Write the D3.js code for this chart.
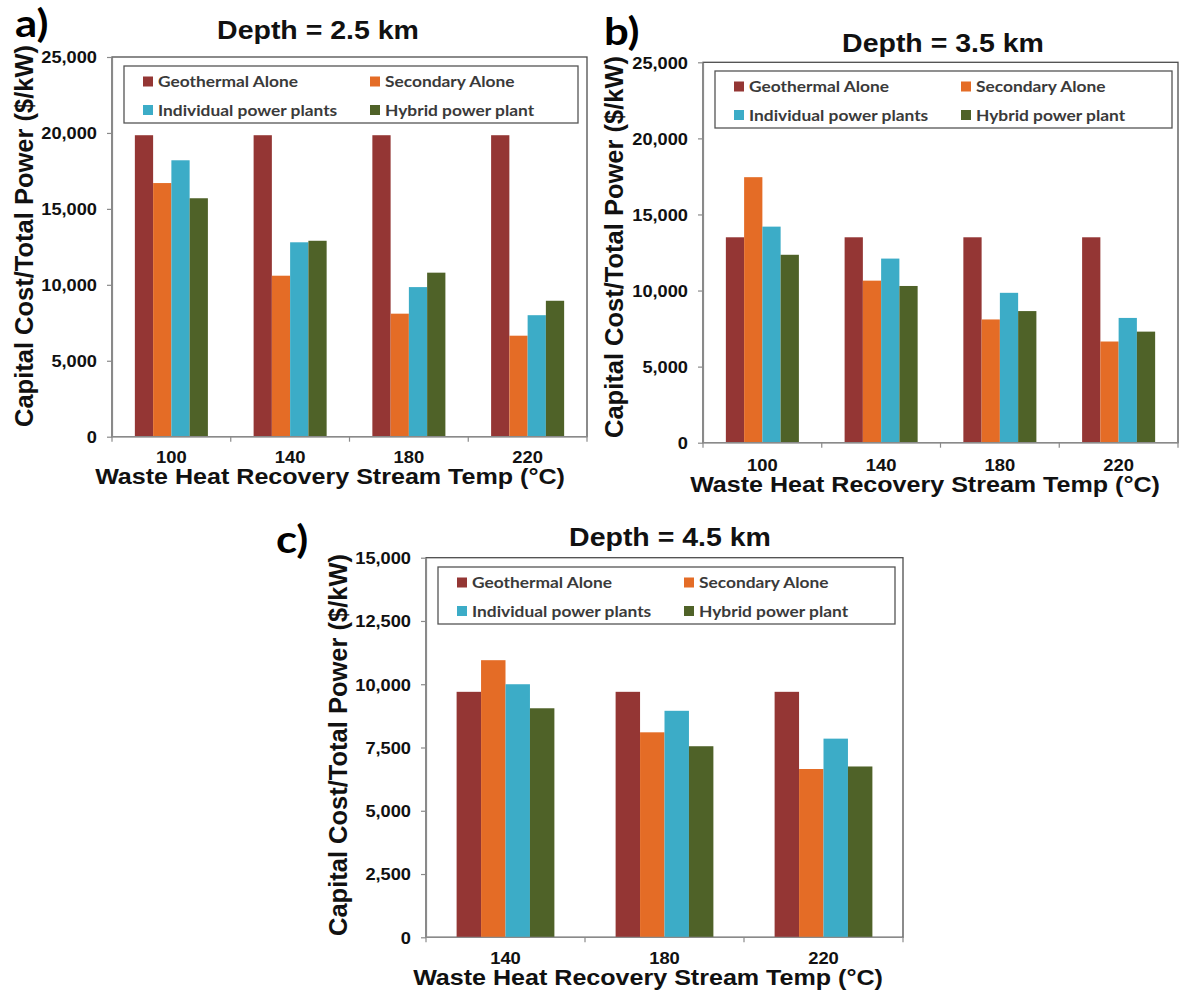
<!DOCTYPE html>
<meta charset="utf-8">
<head>
<style>
body { margin: 0; background: #fff; }
svg { display: block; }
.axis path, .axis line { stroke: #8a8a8a; stroke-width: 1.2; }
.lbl { font-family: "Liberation Sans", Arial, sans-serif; font-weight: bold; fill: #111; }
.leg { font-family: Lato, "Open Sans", sans-serif; font-weight: bold; fill: #3a3a3a; }
</style>
</head>
<body>
<svg width="1180" height="991"></svg>
<script src="https://cdn.jsdelivr.net/npm/d3@7"></script>
<script>

// ---- data ----
var seriesNames = ["Geothermal Alone", "Secondary Alone", "Individual power plants", "Hybrid power plant"];
var seriesColors = ["#943634", "#e46c26", "#3cacc7", "#4f6228"];

var tempsAB = ["100", "140", "180", "220"];
var tempsC = ["140", "180", "220"];

// depth 2.5 km
var geoA = [19850, 19850, 19850, 19850];
var secA = [16700, 10600, 8100, 6650];
var indA = [18200, 12800, 9850, 8000];
var hybA = [15700, 12900, 10800, 8950];

// depth 3.5 km
var geoB = [13500, 13500, 13500, 13500];
var secB = [17450, 10650, 8100, 6650];
var indB = [14200, 12100, 9850, 8200];
var hybB = [12350, 10300, 8650, 7300];

// depth 4.5 km
var geoC = [9700, 9700, 9700];
var secC = [10950, 8100, 6650];
var indC = [10000, 8950, 7850];
var hybC = [9050, 7550, 6750];

var ticksAB = [0, 5000, 10000, 15000, 20000, 25000];
var ticksC = [0, 2500, 5000, 7500, 10000, 12500, 15000];

var yTitle = "Capital Cost/Total Power ($/kW)";
var xTitle = "Waste Heat Recovery Stream Temp (°C)";

// ---- layout ----
var panels = [
  { tag: "a)", title: "Depth = 2.5 km", cats: tempsAB, vals: [geoA, secA, indA, hybA], ticks: ticksAB,
    left: 112, right: 587, top: 57, bottom: 436.7,
    tagX: 15, tagY: 37, titleX: 318, titleY: 39,
    legX: 124, legY: 66, legW: 454, legH: 57,
    yTitleX: 33, yTitleY: 236, xLabY: 463, xTitleX: 330, xTitleY: 484 },
  { tag: "b)", title: "Depth = 3.5 km", cats: tempsAB, vals: [geoB, secB, indB, hybB], ticks: ticksAB,
    left: 703, right: 1178, top: 62.3, bottom: 442.7,
    tagX: 604, tagY: 45, titleX: 943, titleY: 52,
    legX: 715, legY: 71, legW: 457, legH: 57,
    yTitleX: 623, yTitleY: 247, xLabY: 471, xTitleX: 925, xTitleY: 492 },
  { tag: "c)", title: "Depth = 4.5 km", cats: tempsC, vals: [geoC, secC, indC, hybC], ticks: ticksC,
    left: 426, right: 903, top: 557.7, bottom: 937.3,
    tagX: 276, tagY: 553, titleX: 670, titleY: 546,
    legX: 438, legY: 567, legW: 457, legH: 57,
    yTitleX: 347, yTitleY: 745, xLabY: 964, xTitleX: 648, xTitleY: 985 }
];

var svg = d3.select("svg");
var fmt = d3.format(",");
var sx = 1.14; // the source text is a bit wide

function stretchText(g, x, y, str, cls, size, anchor, k) {
  return g.append("text")
    .attr("class", cls)
    .attr("transform", "translate(" + x + "," + y + ") scale(" + (k || sx) + ",1)")
    .attr("text-anchor", anchor || "start")
    .style("font-size", size + "px")
    .text(str);
}

panels.forEach(function(p) {
  var g = svg.append("g");

  var x0 = d3.scaleBand().domain(p.cats).range([p.left, p.right]).paddingInner(0.385).paddingOuter(0.1925);
  var x1 = d3.scaleBand().domain(d3.range(4)).range([0, x0.bandwidth()]);
  var y = d3.scaleLinear().domain([0, d3.max(p.ticks)]).range([p.bottom, p.top]);
  var step = (p.right - p.left) / p.cats.length;

  // plot frame
  g.append("rect")
    .attr("x", p.left).attr("y", p.top)
    .attr("width", p.right - p.left).attr("height", p.bottom - p.top)
    .attr("fill", "none").attr("stroke", "#4d4d4d").attr("stroke-width", 1.3);

  // bars
  p.vals.forEach(function(arr, si) {
    g.selectAll(".bar" + si)
      .data(arr)
      .enter().append("rect")
        .attr("x", function(d, i) { return x0(p.cats[i]) + x1(si); })
        .attr("y", function(d) { return y(d); })
        .attr("width", x1.bandwidth())
        .attr("height", function(d) { return y(0) - y(d); })
        .attr("fill", seriesColors[si]);
  });

  // y axis
  var ya = g.append("g").attr("class", "axis")
    .attr("transform", "translate(" + p.left + ",0)")
    .call(d3.axisLeft(y).tickValues(p.ticks).tickSize(5).tickSizeOuter(0).tickFormat(fmt));
  ya.selectAll("text")
    .attr("class", "lbl")
    .attr("x", -15 / sx)
    .attr("dy", "0.36em")
    .attr("transform", "scale(" + sx + ",1)")
    .style("font-size", "16px");

  // x axis: ticks sit on category boundaries
  var edges = d3.range(p.cats.length + 1).map(function(i) { return p.left + i * step; });
  g.append("line").attr("class", "axisline")
    .attr("x1", p.left).attr("x2", p.right).attr("y1", p.bottom).attr("y2", p.bottom)
    .attr("stroke", "#8a8a8a").attr("stroke-width", 1.2);
  g.selectAll(".xt").data(edges).enter().append("line")
    .attr("x1", function(d) { return d; }).attr("x2", function(d) { return d; })
    .attr("y1", p.bottom).attr("y2", p.bottom + 5)
    .attr("stroke", "#8a8a8a").attr("stroke-width", 1.2);
  p.cats.forEach(function(c) {
    stretchText(g, x0(c) + x0.bandwidth() / 2, p.xLabY, c, "lbl", 16, "middle", 1.15);
  });

  // legend
  g.append("rect")
    .attr("x", p.legX).attr("y", p.legY).attr("width", p.legW).attr("height", p.legH)
    .attr("fill", "#fff").attr("stroke", "#555").attr("stroke-width", 1.3);
  seriesNames.forEach(function(name, i) {
    var col = i % 2, row = Math.floor(i / 2);
    var lx = p.legX + 19 + col * 227;
    var ly = p.legY + 15 + row * 28.5;
    g.append("rect").attr("x", lx).attr("y", ly - 4.5).attr("width", 10).attr("height", 10)
      .attr("fill", seriesColors[i]);
    stretchText(g, lx + 15, ly + 6, name, "leg", 15.5, "start", 1.12);
  });

  // titles
  stretchText(g, p.titleX, p.titleY, p.title, "lbl", 25, "middle");
  g.append("text")
    .attr("class", "leg")
    .attr("transform", "translate(" + p.tagX + "," + p.tagY + ") scale(1.15,1)")
    .style("font-size", "38px").style("fill", "#000")
    .text(p.tag);
  g.append("text")
    .attr("class", "lbl")
    .attr("transform", "translate(" + p.yTitleX + "," + p.yTitleY + ") rotate(-90) scale(1.02,1)")
    .attr("text-anchor", "middle")
    .style("font-size", "25px")
    .text(yTitle);
  stretchText(g, p.xTitleX, p.xTitleY, xTitle, "lbl", 22, "middle");
});

</script>
</body>
